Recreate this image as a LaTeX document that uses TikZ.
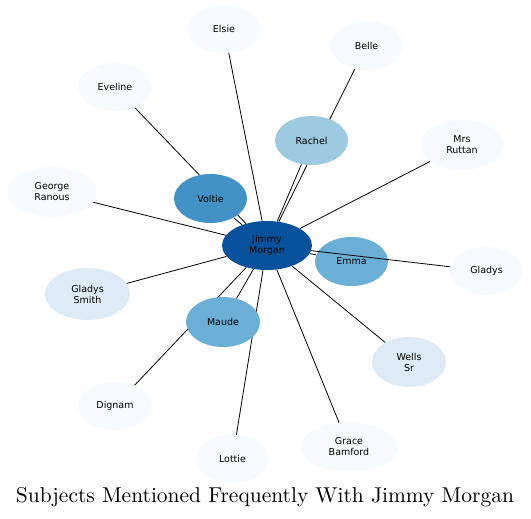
\documentclass[tikz,border=0pt]{standalone}
\usepackage{fontspec}
\setmainfont{Latin Modern Roman}
\newfontfamily\labelfont{DejaVu Sans}
\usetikzlibrary{shapes.geometric,backgrounds}
\definecolor{bA}{RGB}{8,81,156}
\definecolor{bB}{RGB}{66,146,198}
\definecolor{bC}{RGB}{107,174,214}
\definecolor{bD}{RGB}{158,202,225}
\definecolor{bE}{RGB}{222,235,247}
\definecolor{bF}{RGB}{247,251,255}
\tikzset{
  ent/.style={ellipse, draw=none, inner sep=0pt, align=center,
    font=\labelfont\fontsize{9.5}{11}\selectfont, text=black},
  sz/.style 2 args={minimum width=#1pt, minimum height=#2pt},
  link/.style={draw=black, line width=0.8pt}
}
\begin{document}
\begin{tikzpicture}[x=1pt,y=-1pt]
\useasboundingbox (0,0) rectangle (531,519);
\node[ent, fill=bF, sz={74}{48}] (elsie) at (224,29) {Elsie};
\node[ent, fill=bF, sz={73}{49}] (belle) at (366.5,45.5) {Belle};
\node[ent, fill=bF, sz={74}{48}] (eveline) at (115,87) {Eveline};
\node[ent, fill=bF, sz={84}{50}] (ruttan) at (462,145) {Mrs\\Ruttan};
\node[ent, fill=bF, sz={90}{50}] (george) at (52,192) {George\\Ranous};
\node[ent, fill=bF, sz={73}{48}] (gladys) at (486.5,271) {Gladys};
\node[ent, fill=bE, sz={85}{52}] (gsmith) at (87.5,294) {Gladys\\Smith};
\node[ent, fill=bE, sz={74}{50}] (wells) at (409,362) {Wells\\Sr};
\node[ent, fill=bF, sz={74}{48}] (dignam) at (115,406) {Dignam};
\node[ent, fill=bF, sz={73}{48}] (lottie) at (232.5,459) {Lottie};
\node[ent, fill=bF, sz={98}{49}] (grace) at (349,447) {Grace\\Bamford};
\node[ent, fill=bD, sz={73}{49}] (rachel) at (311.5,140.5) {Rachel};
\node[ent, fill=bB, sz={73}{49}] (voltie) at (210.5,198.5) {Voltie};
\node[ent, fill=bC, sz={73}{49}] (emma) at (351.5,261.5) {Emma};
\node[ent, fill=bC, sz={74}{50}] (maude) at (223,322) {Maude};
\node[ent, fill=bA, sz={90}{49}] (jimmy) at (267,245.5) {Jimmy\\Morgan};
\begin{pgfonlayer}{background}
\foreach \t in {elsie,belle,eveline,ruttan,george,gsmith,wells,dignam,lottie,grace,rachel,voltie,emma,maude}
  \draw[link] (jimmy) -- (\t);
\end{pgfonlayer}
\draw[link] (jimmy) -- (gladys);
\node (title) at (265,497) {\resizebox{498pt}{!}{Subjects Mentioned Frequently With Jimmy Morgan}};
\end{tikzpicture}
\end{document}
